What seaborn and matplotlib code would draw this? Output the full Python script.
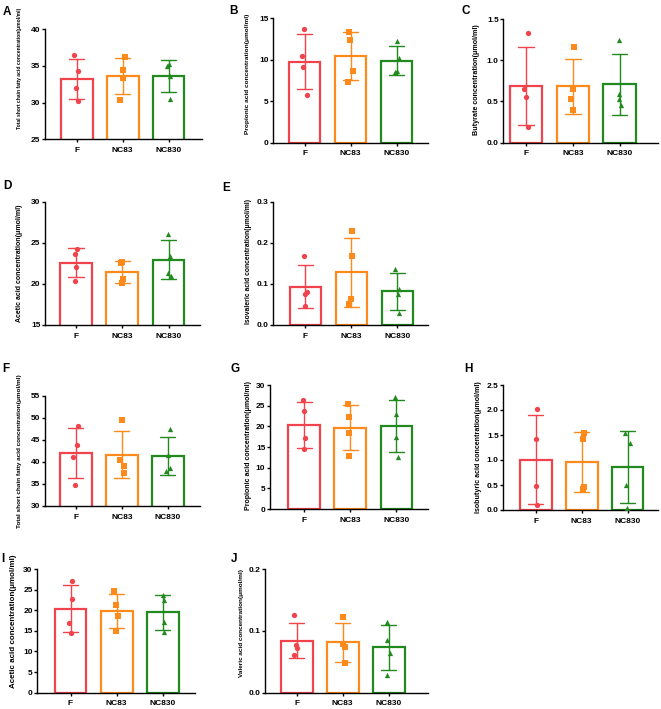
import numpy as np
import pandas as pd
import matplotlib
matplotlib.use("Agg")
import matplotlib.pyplot as plt
import seaborn as sns

# ---------------- data ----------------
groups = ["F", "NC83", "NC830"]
colors = ["#F0434C", "#FF8A1C", "#22891F"]
markers = ["o", "s", "^"]

A_values = [[36.5, 34.3, 31.95, 30.2], [36.2, 34.5, 33.3, 30.4], [35.05, 35.3, 33.6, 30.5]]
B_values = [[13.67, 10.5, 9.17, 5.75], [13.3, 12.4, 8.7, 7.3], [12.3, 10.2, 8.5, 8.6]]
C_values = [[1.33, 0.655, 0.558, 0.194], [1.16, 0.647, 0.526, 0.40], [1.25, 0.586, 0.534, 0.453]]
D_values = [[24.3, 23.6, 22.05, 20.4], [22.7, 22.6, 20.6, 20.1], [26.1, 23.4, 21.3, 21.0]]
E_values = [[0.169, 0.081, 0.075, 0.047], [0.228, 0.168, 0.064, 0.052], [0.137, 0.088, 0.075, 0.028]]
F_values = [[48.2, 43.96, 41.07, 34.74], [49.45, 40.4, 39.2, 37.56], [47.4, 41.7, 38.55, 38.0]]
G_values = [[26.3, 23.6, 17.1, 14.4], [25.3, 22.3, 18.3, 12.8], [27.0, 23.1, 17.5, 12.7]]
H_values = [[2.03, 1.43, 0.487, 0.093], [1.54, 1.43, 0.427, 0.467], [1.55, 1.35, 0.493, 0.033]]
I_values = [[27.1, 22.8, 17.0, 14.56], [24.66, 21.2, 18.6, 15.0], [23.6, 22.4, 17.1, 14.8]]
J_values = [[0.125, 0.0776, 0.0717, 0.061], [0.123, 0.0792, 0.074, 0.0485], [0.114, 0.085, 0.0647, 0.029]]

A_label = "Total short chain fatty acid concentration(μmol/ml)"
B_label = "Propionic acid concentration(μmol/ml)"
C_label = "Butyrate concentration(μmol/ml)"
D_label = "Acetic acid concentration(μmol/ml)"
E_label = "Isovaleric acid concentration(μmol/ml)"
F_label = "Total short chain fatty acid concentration(μmol/ml)"
G_label = "Propionic acid concentration(μmol/ml)"
H_label = "Isobutyric acid concentration(μmol/ml)"
I_label = "Acetic acid concentration(μmol/ml)"
J_label = "Valeric acid concentration(μmol/ml)"

A_ticks = [25, 30, 35, 40]
B_ticks = [0, 5, 10, 15]
C_ticks = [0.0, 0.5, 1.0, 1.5]
D_ticks = [15, 20, 25, 30]
E_ticks = [0.0, 0.1, 0.2, 0.3]
F_ticks = [30, 35, 40, 45, 50, 55]
G_ticks = [0, 5, 10, 15, 20, 25, 30]
H_ticks = [0.0, 0.5, 1.0, 1.5, 2.0, 2.5]
I_ticks = [0, 5, 10, 15, 20, 25, 30]
J_ticks = [0.0, 0.1, 0.2]

# ---------------- style ----------------
sns.set_theme(style="ticks")
plt.rcParams["font.family"] = ["Liberation Sans", "DejaVu Sans"]
plt.rcParams["font.weight"] = "bold"
plt.rcParams["axes.labelweight"] = "bold"

W, H = 661, 709
fig = plt.figure(figsize=(W / 100, H / 100), dpi=100)
fig.patch.set_facecolor("white")

# layout: (letter, values, label, ticks, fmt, box(l,r,t,b px), xlim, letter pos, label center, label length)
layout = [
    ("A", A_values, A_label, A_ticks, "{:.0f}", (45, 201.7, 29.3, 139.3), (-0.69, 2.72), (3, 6), (20, 68), 120),
    ("B", B_values, B_label, B_ticks, "{:.0f}", (273.3, 428.3, 18.3, 142.7), (-0.68, 2.69), (229, 5), (247, 74), 118),
    ("C", C_values, C_label, C_ticks, "{:.1f}", (503.3, 658.3, 19, 142.7), (-0.49, 2.83), (461, 5), (477, 80), 110),
    ("D", D_values, D_label, D_ticks, "{:.0f}", (45, 200, 201.7, 325), (-0.67, 2.68), (3, 180), (20, 263), 117),
    ("E", E_values, E_label, E_ticks, "{:.1f}", (273.3, 428.3, 201.7, 325), (-0.70, 2.67), (222, 182), (248, 262), 123),
    ("F", F_values, F_label, F_ticks, "{:.0f}", (45, 200, 396, 506), (-0.67, 2.70), (2, 363), (20, 451), 153),
    ("G", G_values, G_label, G_ticks, "{:.0f}", (270, 428.3, 385, 509), (-0.74, 2.69), (231, 363), (248, 446), 128),
    ("H", H_values, H_label, H_ticks, "{:.1f}", (503.3, 658.3, 385, 510), (-0.71, 2.67), (464, 363), (479, 447), 130),
    ("I", I_values, I_label, I_ticks, "{:.0f}", (37.3, 195, 569, 692.7), (-0.72, 2.70), (1, 553), (14, 621.5), 133),
    ("J", J_values, J_label, J_ticks, "{:.1f}", (265, 428.3, 569, 692.7), (-0.69, 2.86), (231, 553), (241, 623), 107),
]

np.random.seed(7)
renderer = fig.canvas.get_renderer()

for letter, values, label, ticks, fmt, box, xlim, lpos, labc, lablen in layout:
    l, r, t, b = box
    ax = fig.add_axes([l / W, 1 - b / H, (r - l) / W, (b - t) / H])
    df = pd.DataFrame({
        "group": np.repeat(groups, [len(v) for v in values]),
        "value": np.concatenate(values),
    })
    sns.barplot(data=df, x="group", y="value", hue="group", order=groups,
                hue_order=groups, palette=colors, saturation=1, fill=False,
                errorbar="sd", capsize=0.33, width=0.69, linewidth=1.6,
                err_kws={"linewidth": 1.0}, legend=False, ax=ax)
    for g, c, m in zip(groups, colors, markers):
        sns.stripplot(data=df[df["group"] == g], x="group", y="value",
                      order=groups, color=c, marker=m, size=3.8,
                      jitter=0.06, linewidth=0, ax=ax, zorder=4)
    ax.set_xlim(*xlim)
    ax.set_ylim(ticks[0], ticks[-1])
    ax.set_yticks(ticks)
    ax.set_yticklabels([fmt.format(v) for v in ticks])
    ax.set_xticks(range(len(groups)))
    ax.set_xticklabels(groups)
    ax.set_xlabel("")
    ax.set_ylabel("")
    ax.set_facecolor("none")
    for s in ["top", "right"]:
        ax.spines[s].set_visible(False)
    for s in ["left", "bottom"]:
        ax.spines[s].set_linewidth(1.0)
        ax.spines[s].set_color("black")
    ax.tick_params(axis="both", length=2.5, width=1.0, labelsize=6,
                   color="black", labelcolor="black")
    ax.tick_params(axis="y", pad=0.8)
    ax.tick_params(axis="x", pad=3)
    for tl in ax.get_xticklabels() + ax.get_yticklabels():
        tl.set_fontweight("bold")

    fig.text(lpos[0] / W, 1 - lpos[1] / H, letter, ha="left", va="top",
             fontsize=8.5, fontweight="bold", color="black")
    txt = fig.text(labc[0] / W, 1 - labc[1] / H, label, rotation=90,
                   ha="center", va="center", fontsize=4, fontweight="bold",
                   color="black")
    ext = txt.get_window_extent(renderer)
    txt.set_fontsize(4 * lablen / ext.height)

fig.savefig("out.png", dpi=100, facecolor="white")
